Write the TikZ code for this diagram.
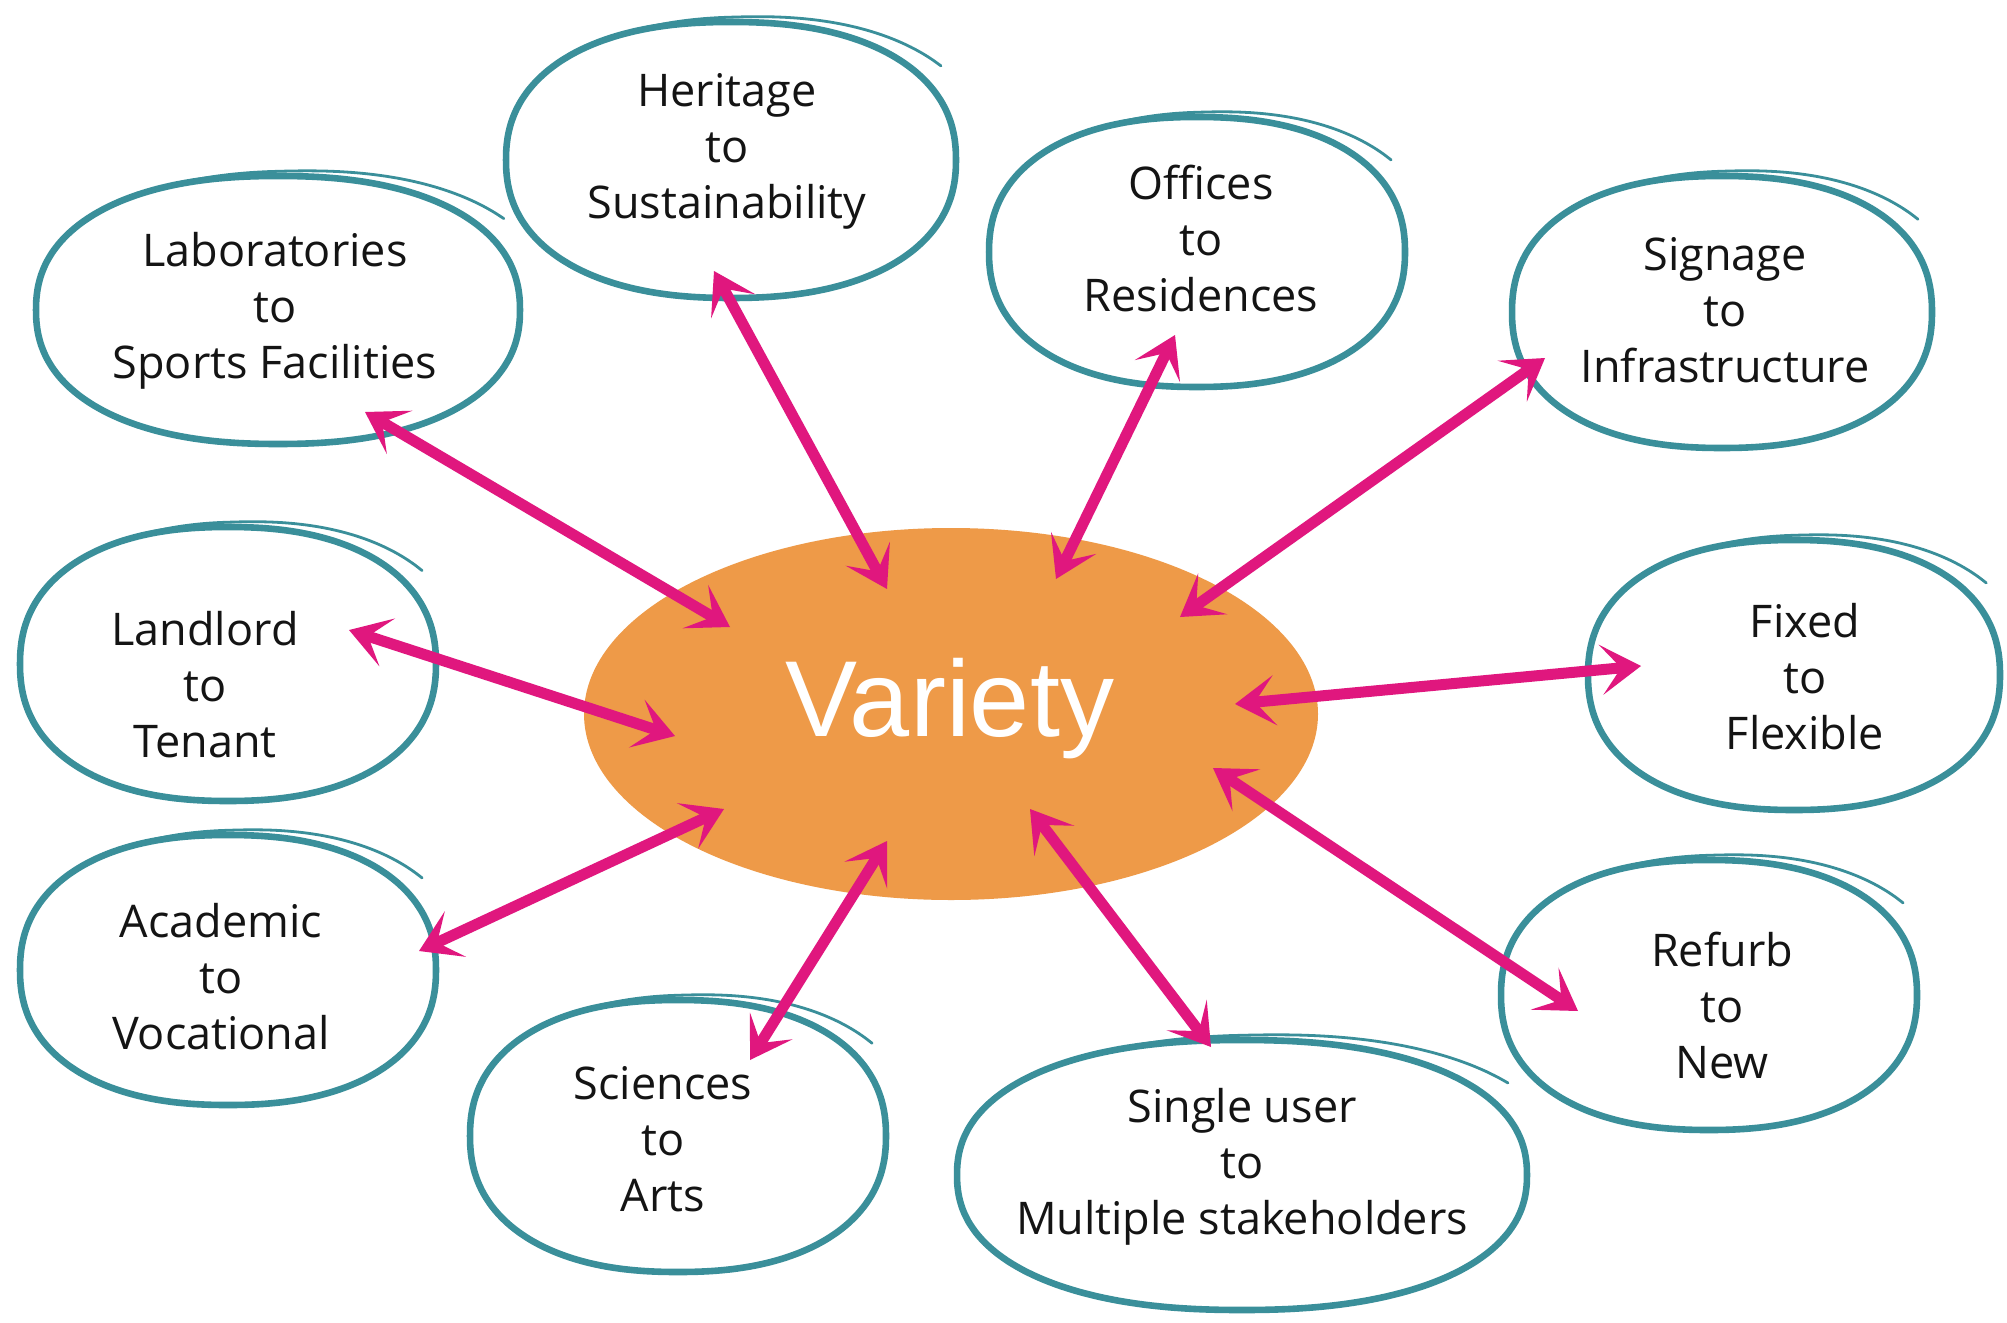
\documentclass[tikz,border=0pt]{standalone}
\usepackage{fontspec}
\setmainfont{Open Sans}
\newfontfamily\varfont{Liberation Sans}
\usetikzlibrary{arrows.meta}
\definecolor{teal1}{HTML}{3A8F9A}
\definecolor{orng}{HTML}{EE9A48}
\definecolor{mag}{HTML}{E0177E}
\tikzset{
 loopline/.style={draw=teal1, line width=3.3pt, fill=white},
 tailline/.style={draw=teal1, line width=1.4pt, line cap=round},
 lbl/.style={align=center, font=\fontsize{22.5}{28}\selectfont, text=black!92},
 tipx/.tip={Stealth[length=20pt,width=25pt,inset=10pt]},
 arr/.style={draw=mag, line width=5.5pt, tipx-tipx},
}
\newcommand\myblob[4]{%
 \draw[loopline] plot[domain=2.5:357.5, samples=72, smooth cycle, variable=\t] ({#1+#3*cos(\t)*abs(cos(\t))^(-0.12)}, {#2-#4*sin(\t)*abs(sin(\t))^(-0.12)});
 \draw[tailline] plot[domain=115:35, samples=25, smooth, variable=\t] ({#1+(1+0.0014*(115-\t))*#3*cos(\t)*abs(cos(\t))^(-0.12)}, {#2-(1+0.0014*(115-\t))*#4*sin(\t)*abs(sin(\t))^(-0.12)});
}
\begin{document}
\begin{tikzpicture}[x=0.5pt,y=-0.5pt]
\useasboundingbox[fill=white] (0,0) rectangle (2007,1322);
% blobs
\myblob{278}{310}{242}{134}
\myblob{731}{160}{225}{138}
\myblob{1197}{252}{208}{135}
\myblob{1722}{312}{210}{136}
\myblob{228}{664}{208}{137}
\myblob{1794}{675}{206}{135}
\myblob{228}{970}{208}{135}
\myblob{678}{1136}{208}{136}
\myblob{1242}{1175}{285}{135}
\myblob{1709}{995}{208}{135}
% labels
\node[lbl] (lab) at (275,311) {Laboratories\\to\\Sports Facilities};
\node[lbl] (her) at (727,151) {Heritage\\to\\Sustainability};
\node[lbl] (off) at (1201,239) {Offices\\to\\Residences};
\node[lbl] (sig) at (1725,310) {Signage\\to\\Infrastructure};
\node[lbl] (lan) at (205,685) {Landlord\\to\\Tenant};
\node[lbl] (fix) at (1805,677) {Fixed\\to\\Flexible};
\node[lbl] (aca) at (221,977) {Academic\\to\\Vocational};
\node[lbl] (sci) at (663,1139) {Sciences\\to\\Arts};
\node[lbl] (sin) at (1242,1167) {Single user\\to\\Multiple stakeholders};
\node[lbl] (ref) at (1722,1005) {Refurb\\to\\New};
% centre
\fill[orng] (951,714) ellipse [x radius=367, y radius=186];
\node[anchor=base, font=\varfont\fontsize{54}{60}\selectfont, text=white] (var) at (950,736) {Variety};
% arrow ends
\coordinate (labA) at (365,412);  \coordinate (labB) at (730,627);
\coordinate (herA) at (714,271);  \coordinate (herB) at (887,589);
\coordinate (offA) at (1175,335); \coordinate (offB) at (1056,579);
\coordinate (sigA) at (1545,358); \coordinate (sigB) at (1180,617);
\coordinate (lanA) at (349,630);  \coordinate (lanB) at (675,736);
\coordinate (fixA) at (1641,666); \coordinate (fixB) at (1235,704);
\coordinate (acaA) at (419,951);  \coordinate (acaB) at (724,809);
\coordinate (sciA) at (750,1060); \coordinate (sciB) at (887,841);
\coordinate (sinA) at (1211,1047);\coordinate (sinB) at (1030,809);
\coordinate (refA) at (1578,1011);\coordinate (refB) at (1213,768);
\foreach \n in {lab,her,off,sig,lan,fix,aca,sci,sin,ref}
  \draw[arr] (\n A) -- (\n B);
\end{tikzpicture}
\end{document}
